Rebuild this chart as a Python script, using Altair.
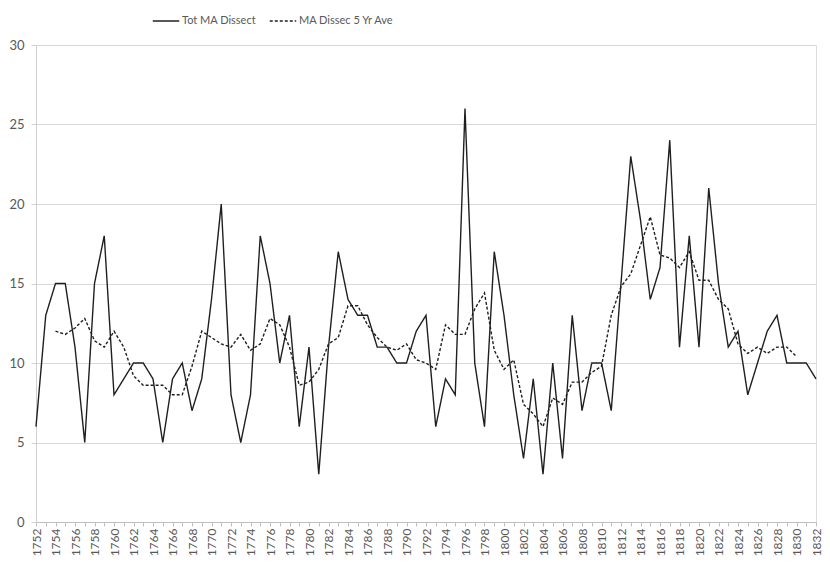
import altair as alt
import pandas as pd

years = list(range(1752, 1833))

tot_ma_dissect = [
    6, 13, 15, 15, 11, 5, 15, 18, 8, 9,
    10, 10, 9, 5, 9, 10, 7, 9, 14, 20,
    8, 5, 8, 18, 15, 10, 13, 6, 11, 3,
    11, 17, 14, 13, 13, 11, 11, 10, 10, 12,
    13, 6, 9, 8, 26, 10, 6, 17, 13, 8,
    4, 9, 3, 10, 4, 13, 7, 10, 10, 7,
    15, 23, 19, 14, 16, 24, 11, 18, 11, 21,
    15, 11, 12, 8, 10, 12, 13, 10, 10, 10,
    9,
]

ave_years = list(range(1754, 1831))
ma_dissec_5yr_ave = [
    12.0, 11.8, 12.2, 12.8, 11.4, 11.0, 12.0, 11.0, 9.2, 8.6,
    8.6, 8.6, 8.0, 8.0, 9.8, 12.0, 11.6, 11.2, 11.0, 11.8,
    10.8, 11.2, 12.8, 12.4, 11.0, 8.6, 8.8, 9.6, 11.2, 11.6,
    13.6, 13.6, 12.4, 11.6, 11.0, 10.8, 11.2, 10.2, 10.0, 9.6,
    12.4, 11.8, 11.8, 13.4, 14.4, 10.8, 9.6, 10.2, 7.4, 6.8,
    6.0, 7.8, 7.4, 8.8, 8.8, 9.4, 9.8, 13.0, 14.8, 15.6,
    17.4, 19.2, 16.8, 16.6, 16.0, 17.0, 15.2, 15.2, 14.0, 13.4,
    11.2, 10.6, 11.0, 10.6, 11.0, 11.0, 10.4,
]

series_names = ["Tot MA Dissect", "MA Dissec 5 Yr Ave"]

df = pd.concat([
    pd.DataFrame({"year": years, "value": tot_ma_dissect, "series": series_names[0]}),
    pd.DataFrame({"year": ave_years, "value": ma_dissec_5yr_ave, "series": series_names[1]}),
])

FONT = "Lato"
GRAY = "#595959"

chart = alt.Chart(df).mark_line(strokeWidth=1.4, color="#1f1f1f").encode(
    x=alt.X(
        "year:Q",
        scale=alt.Scale(domain=[1752, 1832], nice=False, zero=False),
        axis=alt.Axis(
            title=None,
            values=years,
            format="d",
            labelExpr="datum.value % 2 == 0 ? datum.label : ''",
            labelAngle=270,
            labelAlign="right",
            labelBaseline="middle",
            labelOverlap=False,
            labelFont=FONT,
            labelFontSize=12,
            labelColor=GRAY,
            labelPadding=2,
            tickSize=4,
            tickColor="#bfbfbf",
            domainColor="#bfbfbf",
            grid=False,
        ),
    ),
    y=alt.Y(
        "value:Q",
        scale=alt.Scale(domain=[0, 30], nice=False),
        axis=alt.Axis(
            title=None,
            values=[0, 5, 10, 15, 20, 25, 30],
            labelFont=FONT,
            labelFontSize=13,
            labelColor=GRAY,
            labelPadding=7,
            tickSize=5,
            tickColor="#d0d0d0",
            domainColor="#d0d0d0",
            gridColor="#d9d9d9",
            gridWidth=1,
        ),
    ),
    strokeDash=alt.StrokeDash(
        "series:N",
        scale=alt.Scale(domain=series_names, range=[[1, 0], [3, 2]]),
        legend=alt.Legend(
            title=None,
            orient="none",
            direction="horizontal",
            legendX=116,
            legendY=-38,
            symbolType="stroke",
            symbolStrokeColor="#1f1f1f",
            symbolStrokeWidth=1.4,
            symbolSize=700,
            labelFont=FONT,
            labelFontSize=11,
            labelColor=GRAY,
            columnPadding=10,
            labelOffset=2,
        ),
    ),
).properties(
    width=780,
    height=477,
    autosize=alt.AutoSizeParams(type="none"),
    padding={"left": 28, "top": 37, "right": 6, "bottom": 35},
).configure_view(stroke=None).configure(background="white")

chart.save("out.html", embed_options={"renderer": "svg", "actions": False})
